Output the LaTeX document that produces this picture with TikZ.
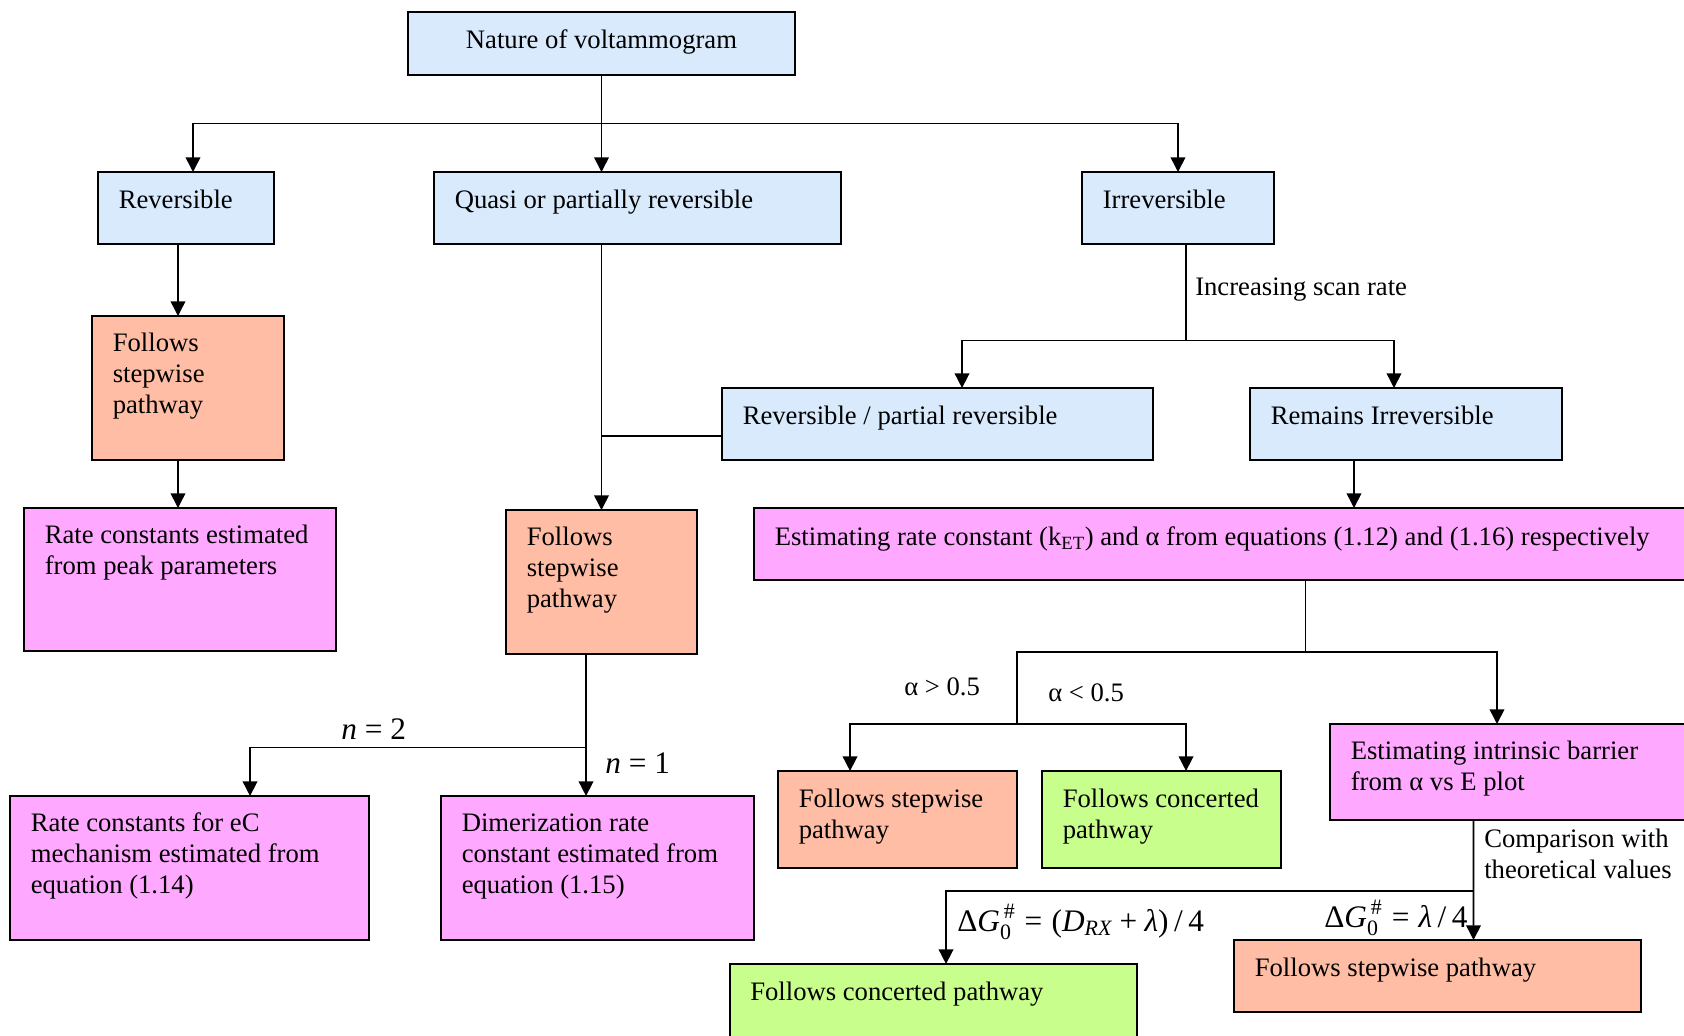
\documentclass[tikz,border=0pt]{standalone}
\usepackage{amsmath}
\usepackage{fontspec}
\setmainfont{Liberation Serif}
\usetikzlibrary{arrows.meta}
\definecolor{cblue}{HTML}{D9EAFD}
\definecolor{corange}{HTML}{FFBDA5}
\definecolor{cmag}{HTML}{FFA8FF}
\definecolor{cgreen}{HTML}{C8FF8C}
\newcommand\mybox[6]{\node[box, fill=#6, minimum width={(#4-#2)*0.75pt}, minimum height={(#5-#3)*0.75pt}] (#1) at (#2,#3) {};}
\begin{document}
\begin{tikzpicture}[x=0.75pt,y=-0.75pt,
  box/.style={draw=black, line width=1.4pt, rectangle, inner sep=0pt, outer sep=0pt, anchor=north west},
  txt/.style={anchor=north west, inner sep=0pt, align=left, font=\fontsize{20}{23.5}\selectfont},
  lbl/.style={anchor=base west, inner sep=0pt, font=\fontsize{20}{23.5}\selectfont},
  mlbl/.style={anchor=base west, inner sep=0pt, font=\fontsize{23.5}{27}\selectfont},
  conn/.style={line width=1.2pt},
  arr/.style={line width=1.2pt, -{Triangle[length=11pt,width=11pt]}}]
\useasboundingbox (0,0) rectangle (1684,1035);
\clip (0,0) rectangle (1684,1035);
% boxes
\mybox{nat}{408}{12}{795}{75}{cblue}
\mybox{rev}{98}{172}{274}{244}{cblue}
\mybox{qua}{434}{172}{841}{244}{cblue}
\mybox{irr}{1082}{172}{1274}{244}{cblue}
\mybox{fsl}{92}{316}{284}{460}{corange}
\mybox{rcp}{24}{508}{336}{651}{cmag}
\mybox{fsm}{506}{510}{697}{654}{corange}
\mybox{rpr}{722}{388}{1153}{460}{cblue}
\mybox{rem}{1250}{388}{1562}{460}{cblue}
\mybox{est}{754}{508}{1700}{580}{cmag}
\mybox{fss}{778}{771}{1017}{868}{corange}
\mybox{fsc}{1042}{771}{1281}{868}{cgreen}
\mybox{int}{1330}{724}{1700}{820}{cmag}
\mybox{rec}{10}{796}{369}{940}{cmag}
\mybox{dim}{441}{796}{754}{940}{cmag}
\mybox{bcon}{730}{964}{1137}{1050}{cgreen}
\mybox{bst}{1234}{940}{1641}{1012}{corange}
% texts
\node[lbl, anchor=base] (t-nat) at (601.5,48.5) {Nature of voltammogram};
\node[txt] (t-rev) at ([shift={(20.5,14)}]rev.north west) {\strut Reversible};
\node[txt] (t-qua) at ([shift={(20.5,14)}]qua.north west) {\strut Quasi or partially reversible};
\node[txt] (t-irr) at ([shift={(20.5,14)}]irr.north west) {\strut Irreversible};
\node[txt] (t-fsl) at ([shift={(20.5,13)}]fsl.north west) {\strut Follows\\stepwise\\pathway};
\node[txt] (t-rcp) at ([shift={(20.5,13)}]rcp.north west) {\strut Rate constants estimated\\from peak parameters};
\node[txt] (t-fsm) at ([shift={(20.5,13)}]fsm.north west) {\strut Follows\\stepwise\\pathway};
\node[txt] (t-rpr) at ([shift={(20.5,14)}]rpr.north west) {\strut Reversible / partial reversible};
\node[txt] (t-rem) at ([shift={(20.5,14)}]rem.north west) {\strut Remains Irreversible};
\node[txt] (t-est) at ([shift={(20.5,15)}]est.north west) {\strut Estimating rate constant (k\textsubscript{ET}) and α from equations (1.12) and (1.16) respectively};
\node[txt] (t-fss) at ([shift={(20.5,14)}]fss.north west) {\strut Follows stepwise\\pathway};
\node[txt] (t-fsc) at ([shift={(20.5,14)}]fsc.north west) {\strut Follows concerted\\pathway};
\node[txt] (t-int) at ([shift={(20.5,13)}]int.north west) {\strut Estimating intrinsic barrier\\from α vs E plot};
\node[txt] (t-rec) at ([shift={(20.5,13)}]rec.north west) {\strut Rate constants for eC\\mechanism estimated from\\equation (1.14)};
\node[txt] (t-dim) at ([shift={(20.5,13)}]dim.north west) {\strut Dimerization rate\\constant estimated from\\equation (1.15)};
\node[txt] (t-bcon) at ([shift={(20,14)}]bcon.north west) {\strut Follows concerted pathway};
\node[txt] (t-bst) at ([shift={(20.5,14)}]bst.north west) {\strut Follows stepwise pathway};
% junctions
\coordinate (j1) at (601.5,123.5);
\coordinate (j2) at (1186,340.5);
\coordinate (j3) at (1305.5,652);
\coordinate (j4) at (1017,724);
\coordinate (j5) at (1473.5,891);
\coordinate (j6) at (586,747.5);
% connectors
\draw[arr] (nat.south) -- (nat.south |- qua.north);
\draw[arr] (j1) -| ([xshift=5.25pt]rev.north);
\draw[arr] (j1) -| (irr.north);
\draw[arr] ([xshift=-6pt]rev.south) -- ([xshift=-6pt]rev.south |- fsl.north);
\draw[arr] ([xshift=-7.5pt]fsl.south) -- ([xshift=-7.5pt]fsl.south |- rcp.north);
\draw[arr] (qua.south -| fsm.north) -- (fsm.north);
\draw[conn] ([yshift=-9pt]rpr.west) -- ([yshift=-9pt]rpr.west -| fsm.north);
\draw[conn] (irr.south -| j2) -- (j2);
\draw[arr] (j2) -| ([xshift=18.4pt]rpr.north);
\draw[arr] (j2) -| ([xshift=-9pt]rem.north);
\draw[arr] ([xshift=-39pt]rem.south) -- ([xshift=-39pt]rem.south |- est.north);
\draw[conn] (est.south -| j3) -- (j3);
\draw[arr] (j4) |- (j3) -| ([xshift=125.25pt]int.north west);
\draw[arr] (j4) -| ([xshift=-35.6pt]fss.north);
\draw[arr] (j4) -| ([xshift=18.4pt]fsc.north);
\draw[arr] ([xshift=107.6pt]int.south west) -- ([xshift=27pt]bst.north);
\draw[arr] (j5) -| ([xshift=9.4pt]bcon.north);
\draw[arr] ([xshift=-11.6pt]fsm.south) -- ([xshift=-11.6pt]fsm.south |- dim.north);
\draw[arr] (j6) -| ([xshift=45.4pt]rec.north);
% labels
\node[lbl] (l-scan) at (1195,295) {Increasing scan rate};
\node[lbl] (l-agt) at (904,695) {α > 0.5};
\node[lbl] (l-alt) at (1048,701) {α < 0.5};
\node[lbl, align=left, anchor=north west] (l-cmp) at (1484,825) {\strut Comparison with\\theoretical values};
\node[mlbl] (l-n2) at (341,739) {\textit{n} = 2};
\node[mlbl] (l-n1) at (605,773) {\textit{n} = 1};
\node[mlbl] (l-dg1) at (957,931) {$\text{Δ}\textit{G}^{\,\text{\#}}_{\text{0}} \mathrel{\text{=}} \text{(}\textit{D}_{\textit{RX}} \mathbin{\text{+}} \textit{λ}\text{)}\,\text{/}\,\text{4}$};
\node[mlbl] (l-dg2) at (1324,927) {$\text{Δ}\textit{G}^{\,\text{\#}}_{\text{0}} \mathrel{\text{=}} \textit{λ}\,\text{/}\,\text{4}$};
\end{tikzpicture}
\end{document}
